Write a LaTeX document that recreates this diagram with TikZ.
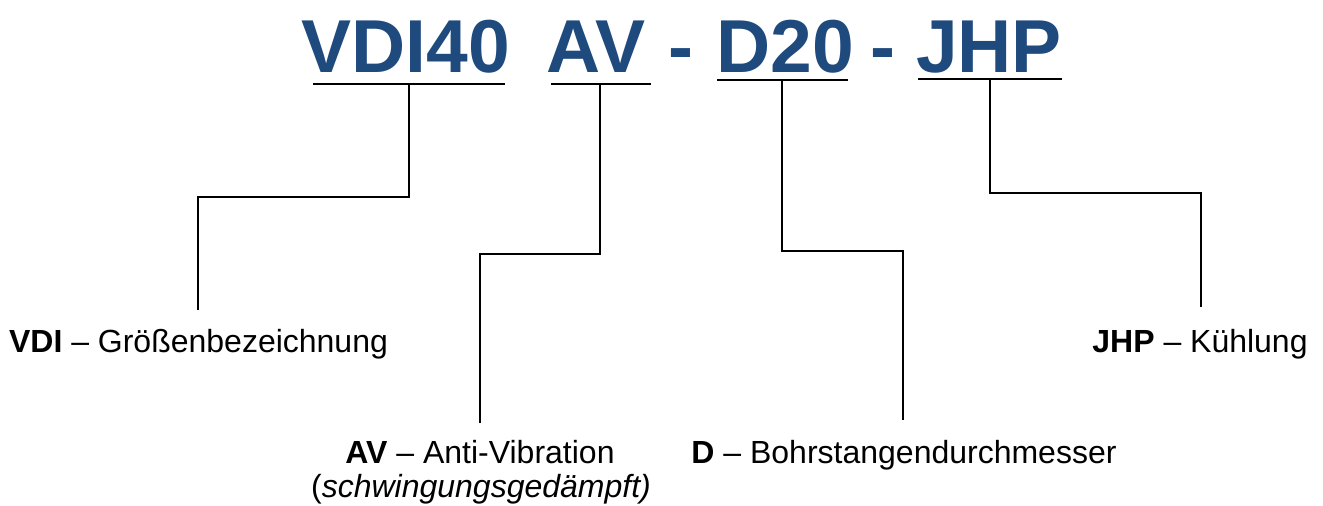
\documentclass[tikz,border=0pt]{standalone}
\usepackage{fontspec}
\setmainfont{Liberation Sans}
\definecolor{titleblue}{HTML}{1F4A7E}
\begin{document}
\begin{tikzpicture}[x=1pt,y=-1pt,
  title/.style={font=\fontsize{75}{75}\selectfont\bfseries, text=titleblue, inner sep=0pt, anchor=base},
  lbl/.style={font=\fontsize{32}{34}\selectfont, inner sep=0pt, anchor=base},
  uline/.style={line width=2pt},
  conn/.style={line width=1.6pt}]
\useasboundingbox (0,0) rectangle (1323,506);
% title
\node[title] (t1) at (406,72) {VDI40};
\node[title] (t2) at (596,72) {AV};
\node[title] (d1) at (681,72) {-};
\node[title] (t3) at (785,72) {D20};
\node[title] (d2) at (883,72) {-};
\node[title] (t4) at (989,72) {JHP};
% underlines
\coordinate (u1a) at (313,84); \coordinate (u1b) at (505,84);
\coordinate (u2a) at (551,84); \coordinate (u2b) at (651,84);
\coordinate (u3a) at (717,80); \coordinate (u3b) at (848,80);
\coordinate (u4a) at (918,79); \coordinate (u4b) at (1062,79);
\draw[uline] (u1a) -- (u1b);
\draw[uline] (u2a) -- (u2b);
\draw[uline] (u3a) -- (u3b);
\draw[uline] (u4a) -- (u4b);
% labels
\node[lbl] (l1) at (198.5,352) {\textbf{VDI} – Größenbezeichnung};
\node[lbl] (l4) at (1200,352) {\textbf{JHP} – Kühlung};
\node[lbl] (l2) at (480,463) {\textbf{AV} – Anti-Vibration};
\node[lbl] (l2b) at (481,497) {(\textit{schwingungsgedämpft)}};
\node[lbl] (l3) at (904,463) {\textbf{D} – Bohrstangendurchmesser};
% connectors
\coordinate (c1) at (409,84); \coordinate (e1) at (198,310);
\coordinate (c2) at (600,84); \coordinate (e2) at (480,423);
\coordinate (c3) at (782,80); \coordinate (e3) at (903,420);
\coordinate (c4) at (990,79); \coordinate (e4) at (1201,307);
\draw[conn] (c1) -- (409,197) -- (198,197) -- (e1);
\draw[conn] (c2) -- (600,254) -- (480,254) -- (e2);
\draw[conn] (c3) -- (782,251) -- (903,251) -- (e3);
\draw[conn] (c4) -- (990,193) -- (1201,193) -- (e4);
\end{tikzpicture}
\end{document}
